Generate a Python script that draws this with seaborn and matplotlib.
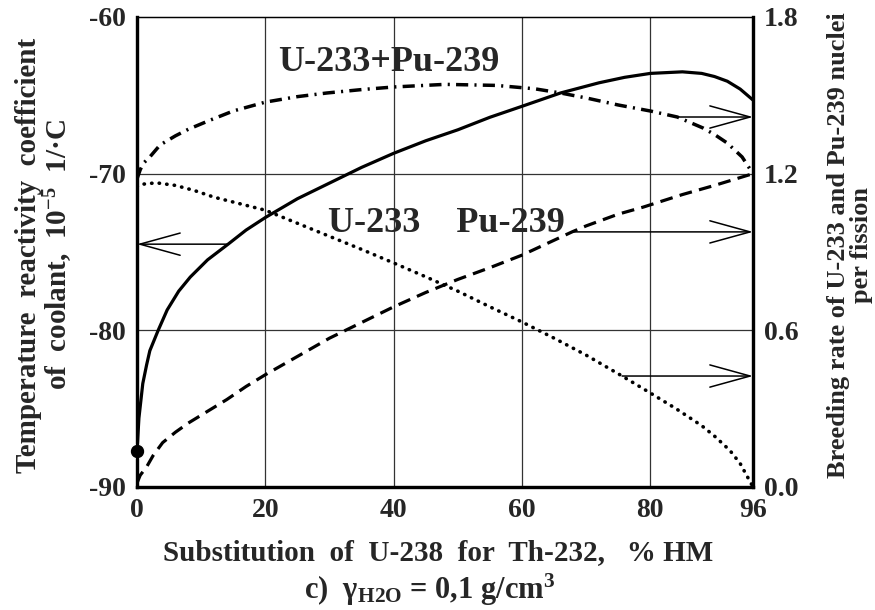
import numpy as np
import pandas as pd
import seaborn as sns
import matplotlib.pyplot as plt

# temperature reactivity coefficient of coolant (left axis), 10^-5 1/C
x_coef = [0, 0.3, 0.9, 1.5, 2.0, 3.3, 4.7, 6.5, 8.3, 11, 14.2, 17, 20, 25, 30, 35, 40, 45,
          50, 55, 60, 66, 72, 76, 80, 85, 88, 90, 92, 94, 96]
y_coef = [-87.7, -85.6, -83.4, -82.2, -81.3, -80.0, -78.7, -77.5, -76.6, -75.5, -74.5, -73.6,
          -72.8, -71.6, -70.6, -69.6, -68.7, -67.9, -67.2, -66.4, -65.7, -64.85, -64.2,
          -63.85, -63.6, -63.5, -63.6, -63.8, -64.1, -64.6, -65.3]

# breeding rates (right axis)
x_sum = [0, 0.5, 1, 2, 3.6, 6, 8, 11.4, 15, 20, 25, 29.6, 35, 40, 48, 56, 62, 66, 70, 75,
         80, 84.2, 88.2, 90, 92, 94.3, 96]
y_sum = [1.18, 1.215, 1.24, 1.264, 1.31, 1.345, 1.37, 1.405, 1.44, 1.474, 1.495, 1.509,
         1.522, 1.532, 1.542, 1.538, 1.525, 1.509, 1.49, 1.463, 1.44, 1.417, 1.375, 1.35,
         1.317, 1.264, 1.2]

x_u233 = [0, 1, 3, 6, 9, 12, 16, 20, 25, 30, 35, 40, 45, 50, 55, 60, 65, 70, 75.6, 80, 84,
          88, 90, 92.4, 94, 96]
y_u233 = [1.15, 1.16, 1.165, 1.155, 1.135, 1.11, 1.085, 1.06, 1.01, 0.96, 0.91, 0.858,
          0.805, 0.75, 0.69, 0.632, 0.57, 0.505, 0.425, 0.36, 0.3, 0.235, 0.195, 0.14,
          0.09, 0.0]

x_pu239 = [0, 0.5, 1.5, 2.5, 4, 6, 8, 10, 12, 14, 17, 20, 25, 30, 35, 40, 45, 50, 55, 60,
           67.8, 70, 75, 78.9, 85, 90, 96]
y_pu239 = [0.015, 0.045, 0.077, 0.12, 0.17, 0.21, 0.245, 0.275, 0.305, 0.335, 0.385, 0.43,
           0.5, 0.57, 0.63, 0.69, 0.745, 0.795, 0.84, 0.888, 0.977, 1.0, 1.045, 1.072,
           1.12, 1.155, 1.2]

x_ticks = [0, 20, 40, 60, 80, 96]
left_ticks = [-90, -80, -70, -60]
right_ticks = [0.0, 0.6, 1.2, 1.8]

sns.set_style('white')
plt.rcParams['font.family'] = ['Liberation Serif', 'DejaVu Serif']
plt.rcParams['font.weight'] = 'bold'
plt.rcParams['axes.unicode_minus'] = False
plt.rcParams['mathtext.fontset'] = 'custom'
plt.rcParams['mathtext.rm'] = 'Liberation Serif:bold'
plt.rcParams['mathtext.it'] = 'Liberation Serif:bold'
plt.rcParams['mathtext.bf'] = 'Liberation Serif:bold'

fig = plt.figure(figsize=(8.75, 6.1), dpi=100)
ax = fig.add_axes([137/875, 1-487/610, 616/875, 470/610])
ax2 = ax.twinx()

sns.lineplot(x=x_coef, y=y_coef, ax=ax, color='black', lw=2.3, sort=False)
sns.scatterplot(x=[0], y=[-87.7], ax=ax, color='black', s=110, clip_on=False, zorder=5)

sns.lineplot(x=x_sum, y=y_sum, ax=ax2, color='black', lw=2.5, sort=False,
             linestyle=(0, (3.5, 1.8, 0.6, 1.8)))
sns.lineplot(x=x_u233, y=y_u233, ax=ax2, color='black', lw=2.6, sort=False,
             linestyle=(0, (0.1, 2.0)), dash_capstyle='round')
sns.lineplot(x=x_pu239, y=y_pu239, ax=ax2, color='black', lw=2.3, sort=False,
             linestyle=(0, (4, 2.3)))

ax.set_xlim(0, 96)
ax.set_ylim(-90, -60)
ax2.set_ylim(0, 1.8)
ax.set_xticks(x_ticks)
ax.set_yticks(left_ticks)
ax2.set_yticks(right_ticks)
ax2.set_yticklabels([f'{v:.1f}' for v in right_ticks])
ax.tick_params(length=0, labelsize=20, pad=8)
ax2.tick_params(length=0, labelsize=20, pad=8)

for v in [20, 40, 60, 80]:
    ax.axvline(v, color='#333333', lw=0.9, zorder=0)
for v in [-70, -80]:
    ax.axhline(v, color='#333333', lw=0.9, zorder=0)

for a in (ax, ax2):
    a.spines['left'].set_linewidth(2.3)
    a.spines['bottom'].set_linewidth(2.3)
    a.spines['right'].set_linewidth(2.3)
    a.spines['top'].set_linewidth(0.9)
    for s in a.spines.values():
        s.set_color('black')

arrow = dict(arrowstyle='->,head_length=29,head_width=8', mutation_scale=1,
             lw=1.1, color='black', shrinkA=0, shrinkB=0)
ax.annotate('', xy=(0, -74.5), xytext=(14.2, -74.5), arrowprops=arrow)
ax2.annotate('', xy=(96, 1.417), xytext=(84.2, 1.417), arrowprops=arrow)
ax2.annotate('', xy=(96, 0.977), xytext=(67.8, 0.977), arrowprops=arrow)
ax2.annotate('', xy=(96, 0.425), xytext=(75.6, 0.425), arrowprops=arrow)

ax2.text(22, 1.625, 'U-233+Pu-239', fontsize=26, fontweight='bold', va='center', ha='left')
ax2.text(29.8, 1.011, 'U-233    Pu-239', fontsize=26, fontweight='bold', va='center', ha='left')

fig.text(45/875, 1-255/610,
         'Temperature  reactivity  coefficient\nof  coolant,  10$^{-5}$  1/·C',
         rotation=90, ha='center', va='center', ma='center', fontsize=21, fontweight='bold',
         linespacing=1.0)
fig.text(850/875, 1-245/610,
         'Breeding rate of U-233 and Pu-239 nuclei\nper fission',
         rotation=90, ha='center', va='center', ma='center', fontsize=19, fontweight='bold',
         linespacing=1.0)
fig.text(438/875, 1-553/610, 'Substitution  of  U-238  for  Th-232,   % HM',
         ha='center', va='center', fontsize=21, fontweight='bold')
fig.text(430/875, 1-590/610, r'c)  γ$_{\mathrm{H2O}}$ = 0,1 g/cm$^{3}$',
         ha='center', va='center', fontsize=22, fontweight='bold')

plt.savefig('out.png', dpi=100)
